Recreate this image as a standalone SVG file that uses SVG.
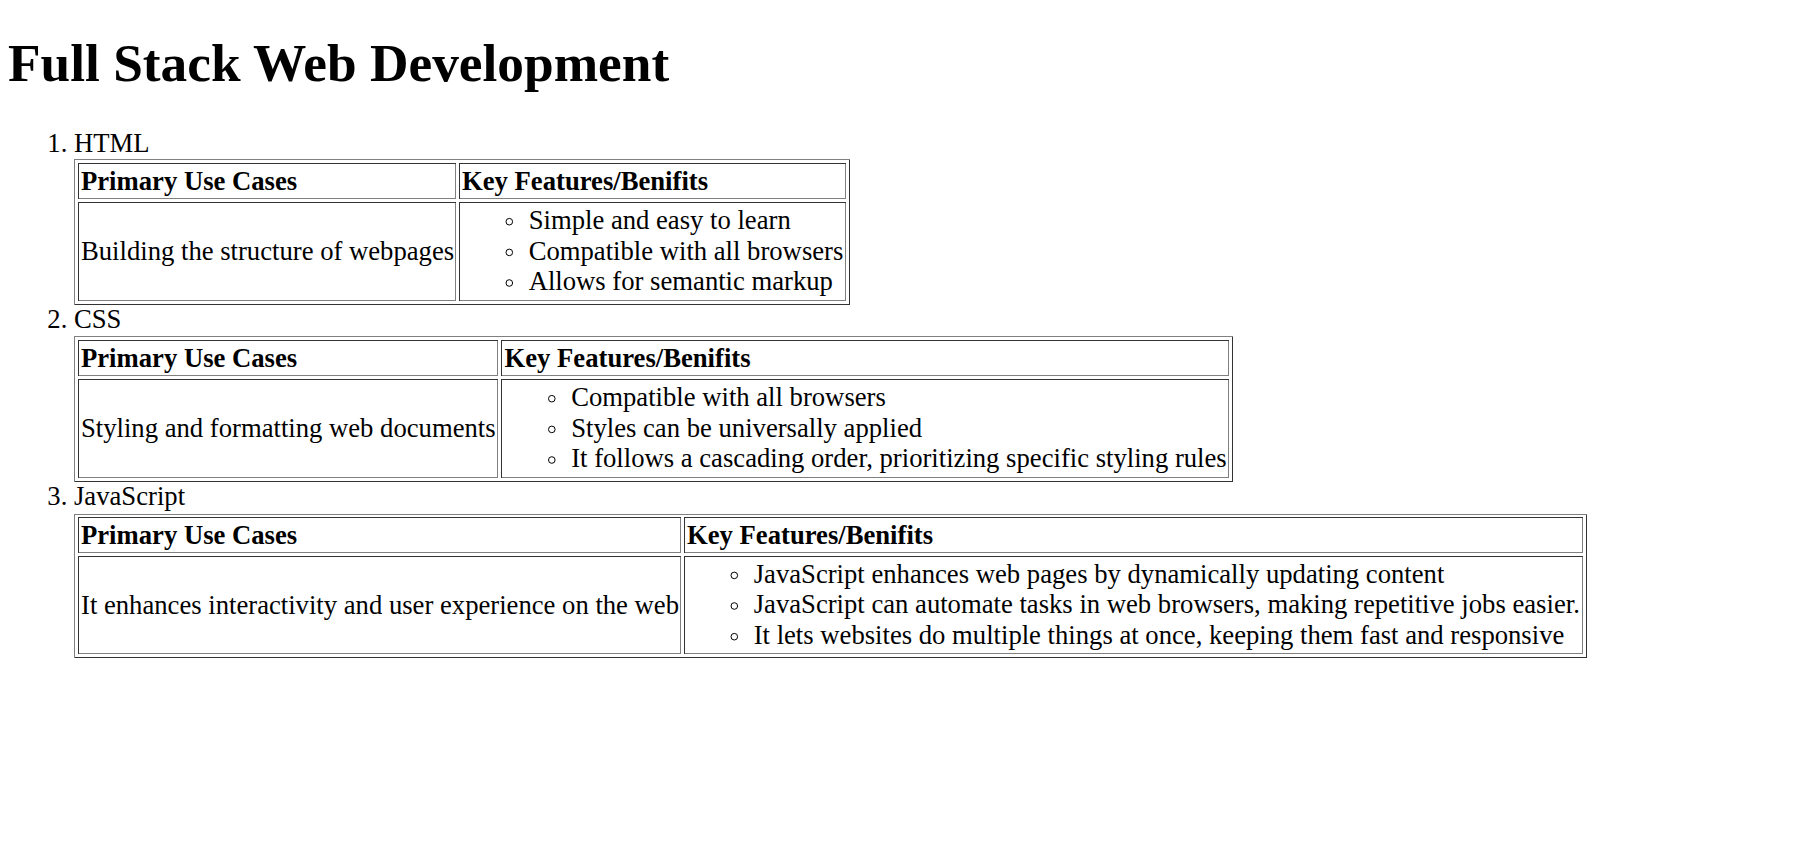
<svg xmlns="http://www.w3.org/2000/svg" width="1811" height="848" viewBox="0 0 1811 848">
<style>
text{font-family:"Liberation Serif","Times New Roman",serif;font-size:26.67px;fill:#000}
.h1{font-size:53.33px;font-weight:bold}
.b{font-weight:bold}
.mk{text-anchor:end}
.lt{fill:none;stroke:#808080;stroke-width:1;shape-rendering:crispEdges}
.dk{fill:none;stroke:#333333;stroke-width:1;shape-rendering:crispEdges}
.bul{fill:none;stroke:#000;stroke-width:1}
</style>
<rect width="1811" height="848" fill="#ffffff"/>
<g id="title"><text class="h1" x="8" y="81">Full Stack Web Development</text></g>

<g id="item-html">
<text class="mk" x="67.3" y="151.7">1.</text><text x="74" y="151.7">HTML</text>
<path class="lt" d="M74.5 305V159.5H850"/><path class="dk" d="M849.5 160V304.5H75"/>
<path class="dk" d="M78.5 199V163.5H456"/><path class="lt" d="M455.5 164V198.5H79"/>
<path class="dk" d="M459.5 199V163.5H846"/><path class="lt" d="M845.5 164V198.5H460"/>
<path class="dk" d="M78.5 301V202.5H456"/><path class="lt" d="M455.5 203V300.5H79"/>
<path class="dk" d="M459.5 301V202.5H846"/><path class="lt" d="M845.5 203V300.5H460"/>
<text class="b" x="81" y="190">Primary Use Cases</text>
<text class="b" x="462" y="190">Key Features/Benifits</text>
<text x="81" y="260">Building the structure of webpages</text>
<circle class="bul" cx="509.3" cy="221.7" r="3.3"/><text x="528.7" y="229">Simple and easy to learn</text>
<circle class="bul" cx="509.3" cy="252.4" r="3.3"/><text x="528.7" y="259.7">Compatible with all browsers</text>
<circle class="bul" cx="509.3" cy="283" r="3.3"/><text x="528.7" y="290.3">Allows for semantic markup</text>
</g>

<g id="item-css">
<text class="mk" x="67.3" y="328.3">2.</text><text x="74" y="328.3">CSS</text>
<path class="lt" d="M74.5 482V336.5H1233"/><path class="dk" d="M1232.5 337V481.5H75"/>
<path class="dk" d="M78.5 376V340.5H498"/><path class="lt" d="M497.5 341V375.5H79"/>
<path class="dk" d="M501.5 376V340.5H1229"/><path class="lt" d="M1228.5 341V375.5H502"/>
<path class="dk" d="M78.5 478V379.5H498"/><path class="lt" d="M497.5 380V477.5H79"/>
<path class="dk" d="M501.5 478V379.5H1229"/><path class="lt" d="M1228.5 380V477.5H502"/>
<text class="b" x="81" y="366.7">Primary Use Cases</text>
<text class="b" x="504.5" y="366.7">Key Features/Benifits</text>
<text x="81" y="436.7">Styling and formatting web documents</text>
<circle class="bul" cx="551.8" cy="398.7" r="3.3"/><text x="571.2" y="406">Compatible with all browsers</text>
<circle class="bul" cx="551.8" cy="429.4" r="3.3"/><text x="571.2" y="436.7">Styles can be universally applied</text>
<circle class="bul" cx="551.8" cy="460" r="3.3"/><text x="571.2" y="467.3">It follows a cascading order, prioritizing specific styling rules</text>
</g>

<g id="item-js">
<text class="mk" x="67.3" y="505">3.</text><text x="74" y="505">JavaScript</text>
<path class="lt" d="M74.5 658V514.5H1587"/><path class="dk" d="M1586.5 515V657.5H75"/>
<path class="dk" d="M78.5 553V517.5H681"/><path class="lt" d="M680.5 518V552.5H79"/>
<path class="dk" d="M684.5 553V517.5H1583"/><path class="lt" d="M1582.5 518V552.5H685"/>
<path class="dk" d="M78.5 654V556.5H681"/><path class="lt" d="M680.5 557V653.5H79"/>
<path class="dk" d="M684.5 654V556.5H1583"/><path class="lt" d="M1582.5 557V653.5H685"/>
<text class="b" x="81" y="543.5">Primary Use Cases</text>
<text class="b" x="687" y="543.5">Key Features/Benifits</text>
<text x="81" y="613.5">It enhances interactivity and user experience on the web</text>
<circle class="bul" cx="734.3" cy="575.4" r="3.3"/><text x="753.7" y="582.7">JavaScript enhances web pages by dynamically updating content</text>
<circle class="bul" cx="734.3" cy="606" r="3.3"/><text x="753.7" y="613.3">JavaScript can automate tasks in web browsers, making repetitive jobs easier.</text>
<circle class="bul" cx="734.3" cy="636.7" r="3.3"/><text x="753.7" y="644">It lets websites do multiple things at once, keeping them fast and responsive</text>
</g>
</svg>
